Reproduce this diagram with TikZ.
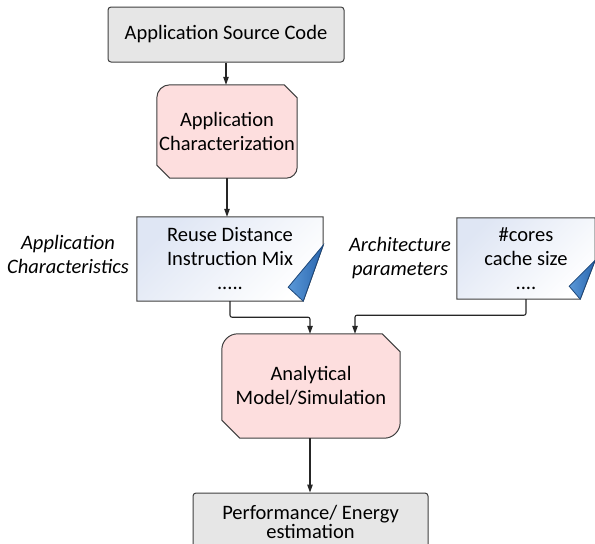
\documentclass[tikz,border=0pt]{standalone}
\usepackage{fontspec}
\setmainfont{Carlito}
\usetikzlibrary{arrows.meta,calc,backgrounds}
\definecolor{grayfill}{HTML}{E6E6E6}
\definecolor{edge}{HTML}{3F3F3F}
\definecolor{pinkfill}{HTML}{FDDEDE}
\definecolor{docblue}{HTML}{DFE6F4}
\definecolor{foldlight}{HTML}{5A98D8}
\definecolor{folddark}{HTML}{2A66AE}
\newcommand\mytightlines{\lineskiplimit=-30pt\relax}
\begin{document}
\begin{tikzpicture}[x=1pt,y=1pt,
  txt/.style={font=\fontsize{20.5}{24}\selectfont, align=center, inner sep=0pt},
  graybox/.style={txt, draw=edge, fill=grayfill, line width=1pt, rounded corners=3pt},
  holder/.style={txt},
  conn/.style={draw=black!85, line width=1.1pt, rounded corners=2pt, -{Triangle[length=8pt,width=5.5pt]}},
  lab/.style={font=\fontsize{20.5}{24}\selectfont\itshape, align=center, inner sep=0pt},
  shapeline/.style={draw=edge, line width=1pt},
  docfill/.style={shapeline, top color=docblue, bottom color=white, shading angle=45},
  foldfill/.style={draw=folddark!70!black, line width=0.8pt, left color=foldlight, right color=folddark},
]
\useasboundingbox (0,0) rectangle (595,-544);

% nodes
\node[graybox, minimum width=236pt, minimum height=55pt] (src) at (226,-34.5) {Application Source Code};
\node[holder, minimum width=140pt, minimum height=93pt] (ac) at (227,-131.5) {Application\\Characterization};
\node[holder, minimum width=186pt, minimum height=84pt] (d1) at (230,-259) {Reuse Distance\\Instruction Mix\\.....};
\node[holder, minimum width=138pt, minimum height=81pt] (d2) at (526,-258.5) {\#cores\\cache size\\....};
\node[holder, minimum width=178pt, minimum height=104pt] (am) at (311,-386) {Analytical\\Model/Simulation};
\node[graybox, minimum width=235pt, minimum height=58pt, font=\fontsize{20.5}{19}\selectfont\mytightlines] (pe) at (310.5,-522) {Performance/ Energy\\estimation};
\node[lab] (lac) at (68,-254) {Application\\Characteristics};
\node[lab] (lap) at (400,-258.5) {Architecture\\parameters};

% shapes behind text
\begin{scope}[on background layer]
  \path[shapeline, fill=pinkfill]
    ([xshift=13pt]ac.south west) -- ([yshift=13pt]ac.south west)
    -- ([yshift=-13pt]ac.north west) arc[start angle=180, end angle=90, radius=13pt]
    -- ([xshift=-13pt]ac.north east) -- ([yshift=-13pt]ac.north east)
    -- ([yshift=11pt]ac.south east) arc[start angle=0, end angle=-90, radius=11pt]
    -- cycle;
  \path[shapeline, fill=pinkfill]
    ([xshift=18pt]am.south west) -- ([yshift=18pt]am.south west)
    -- ([yshift=-16pt]am.north west) arc[start angle=180, end angle=90, radius=16pt]
    -- ([xshift=-18pt]am.north east) -- ([yshift=-18pt]am.north east)
    -- ([yshift=16pt]am.south east) arc[start angle=0, end angle=-90, radius=16pt]
    -- cycle;
  % folded-corner documents
  \path[docfill] (d1.north west) -- (d1.north east) -- ([yshift=56pt]d1.south east)
    -- ([xshift=-20pt]d1.south east) -- (d1.south west) -- cycle;
  \path[foldfill] ([yshift=56pt]d1.south east) -- ([xshift=-35pt,yshift=14pt]d1.south east)
    -- ([xshift=-20pt]d1.south east) -- cycle;
  \path[docfill] (d2.north west) -- (d2.north east) -- ([yshift=39pt]d2.south east)
    -- ([xshift=-15pt]d2.south east) -- (d2.south west) -- cycle;
  \path[foldfill] ([yshift=39pt]d2.south east) -- ([xshift=-26pt,yshift=13pt]d2.south east)
    -- ([xshift=-15pt]d2.south east) -- cycle;
\end{scope}

% connectors
\draw[conn] (src.south) -- (src.south |- ac.north);
\draw[conn] (ac.south) -- (ac.south |- d1.north);
\draw[conn] (d1.south) -- ++(0,-16) -| ([xshift=-1pt]am.north);
\draw[conn] (d2.south) -- ++(0,-16) -| ([xshift=44pt]am.north);
\draw[conn] ([xshift=-1pt]am.south) -- ([xshift=-1pt]am.south |- pe.north);
\end{tikzpicture}
\end{document}
